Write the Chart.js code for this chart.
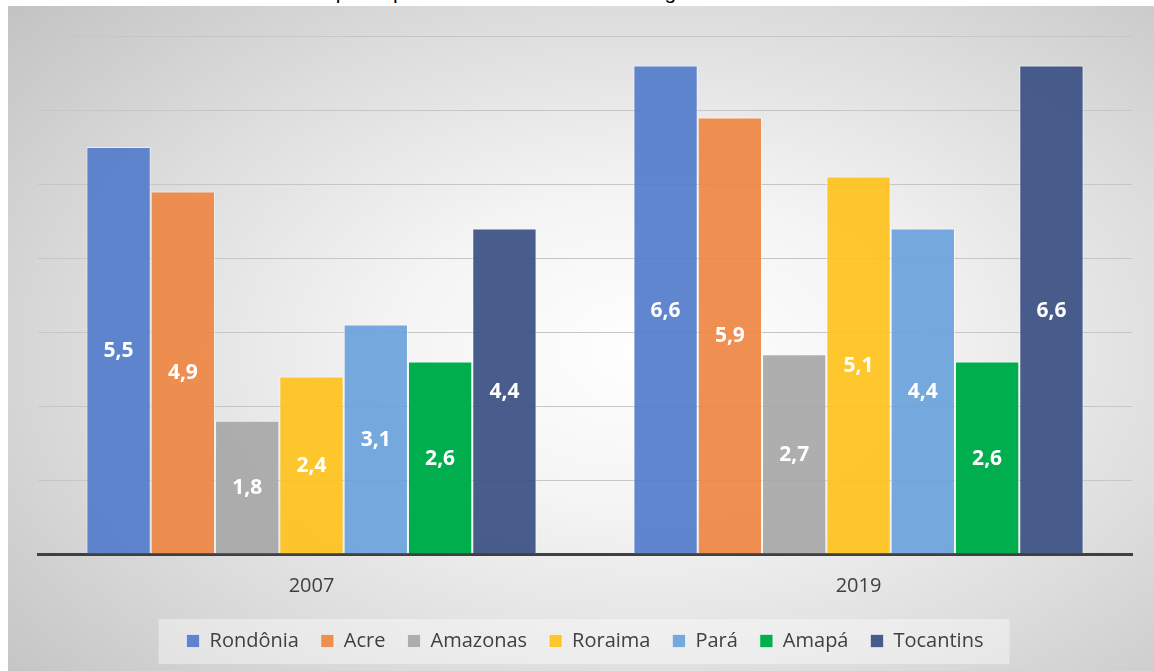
<!DOCTYPE html>
<html lang="pt-BR">
<head>
<meta charset="utf-8">
<title>Estados da região norte</title>
<script src="https://cdn.jsdelivr.net/npm/chart.js@4.4.1/dist/chart.umd.min.js"></script>
<style>
    html, body {
        margin: 0;
        padding: 0;
        background: #ffffff;
        width: 1154px;
        height: 671px;
        overflow: hidden;
        font-family: "Open Sans", "Liberation Sans", sans-serif;
    }
    #caption {
        position: absolute;
        left: 30px;
        top: -20px;
        font-family: "Liberation Sans", Arial, sans-serif;
        font-size: 21px;
        color: #000;
        white-space: nowrap;
    }
    #panel {
        position: absolute;
        left: 8px;
        top: 6px;
        width: 1146px;
        height: 665px;
        background: radial-gradient(ellipse 75% 80% at 56% 52%, #ffffff 0%, #f4f4f4 30%, #dcdcdc 65%, #c2c2c2 100%);
    }
</style>
</head>
<body>
<div id="caption">Proficiência em matemática adequada para o 9º ano - estados da região norte</div>
<div id="panel"><canvas id="chart" width="1146" height="665"></canvas></div>

<script>
// Anos e estados
const years = ['2007', '2019'];
const states = ['Rondônia', 'Acre', 'Amazonas', 'Roraima', 'Pará', 'Amapá', 'Tocantins'];

// valores por estado: [2007, 2019]
const rondonia = [5.5, 6.6];
const acre = [4.9, 5.9];
const amazonas = [1.8, 2.7];
const roraima = [2.4, 5.1];
const para = [3.1, 4.4];
const amapa = [2.6, 2.6];
const tocantins = [4.4, 6.6];

const stateValues = [rondonia, acre, amazonas, roraima, para, amapa, tocantins];
const stateColors = [
    'rgba(84, 125, 203, 0.93)',
    'rgba(238, 135, 68, 0.93)',
    'rgba(168, 168, 168, 0.93)',
    'rgba(255, 195, 30, 0.93)',
    'rgba(108, 163, 218, 0.93)',
    'rgba(0, 174, 78, 1)',
    'rgba(62, 84, 134, 0.95)'
];

// white value labels in the middle of each bar
const barLabels = {
    id: 'barLabels',
    afterDatasetsDraw(chart) {
        const ctx = chart.ctx;
        ctx.save();
        ctx.fillStyle = '#ffffff';
        ctx.font = 'bold 21px "Open Sans", sans-serif';
        ctx.textAlign = 'center';
        ctx.textBaseline = 'middle';
        chart.data.datasets.forEach((ds, i) => {
            const meta = chart.getDatasetMeta(i);
            meta.data.forEach((bar, j) => {
                const txt = ds.data[j].toFixed(1).replace('.', ',');
                ctx.fillText(txt, bar.x, (bar.y + bar.base) / 2 + 1);
            });
        });
        ctx.restore();
    }
};

// light box behind the legend
const legendBox = {
    id: 'legendBox',
    beforeDraw(chart) {
        const boxes = chart.legend && chart.legend.legendHitBoxes;
        if (!boxes || !boxes.length) return;
        let left = Infinity, right = -Infinity;
        boxes.forEach(b => {
            left = Math.min(left, b.left);
            right = Math.max(right, b.left + b.width);
        });
        const mid = boxes[0].top + boxes[0].height / 2;
        const ctx = chart.ctx;
        ctx.save();
        ctx.fillStyle = 'rgba(255, 255, 255, 0.4)';
        ctx.fillRect(left - 28, mid - 22, right - left + 54, 45);
        ctx.restore();
    }
};

const ctx = document.getElementById('chart').getContext('2d');
new Chart(ctx, {
    type: 'bar',
    data: {
        labels: years,
        datasets: states.map((name, i) => ({
            label: name,
            data: stateValues[i],
            backgroundColor: stateColors[i],
            borderColor: 'rgba(255, 255, 255, 0.55)',
            borderWidth: 1,
            categoryPercentage: 0.823,
            barPercentage: 1.0
        }))
    },
    options: {
        responsive: false,
        animation: false,
        layout: {
            padding: { left: 30, right: 22, top: 30, bottom: 10 }
        },
        plugins: {
            tooltip: { enabled: false },
            legend: {
                position: 'bottom',
                labels: {
                    boxWidth: 13,
                    boxHeight: 13,
                    padding: 22,
                    color: '#404040',
                    font: { family: '"Open Sans", sans-serif', size: 20 }
                }
            }
        },
        scales: {
            x: {
                grid: { display: false, drawTicks: false },
                border: { display: true, color: '#404040', width: 3 },
                ticks: {
                    padding: 20,
                    color: '#404040',
                    font: { family: '"Open Sans", sans-serif', size: 20 }
                },
                afterFit(scale) {
                    scale.height = 55;
                }
            },
            y: {
                min: 0,
                max: 7,
                ticks: { display: false, stepSize: 1 },
                border: { display: false },
                grid: { color: '#c6c6c6', lineWidth: 1, drawTicks: false }
            }
        }
    },
    plugins: [legendBox, barLabels]
});
</script>
</body>
</html>
